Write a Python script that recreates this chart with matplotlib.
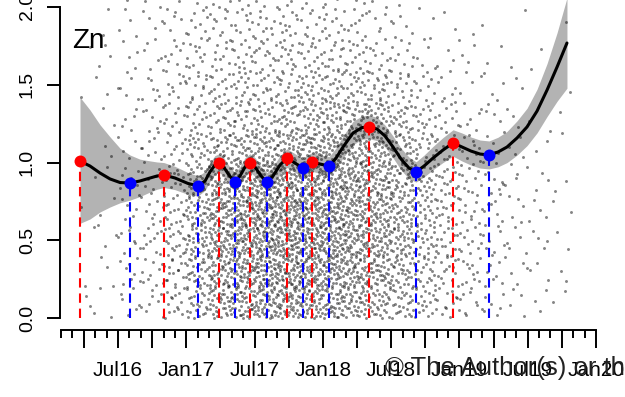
import numpy as np
import matplotlib
matplotlib.use("Agg")
import matplotlib.pyplot as plt

plt.rcParams['font.family'] = ['Liberation Sans', 'DejaVu Sans']

# x axis = months since Jan 2016 (Jul16 = 6, Jan20 = 48)
# fitted smooth curve
curve_x = [2.66, 3.54, 4.42, 5.30, 6.18, 7.05, 7.93, 8.81, 9.43, 10.04, 11.01, 12.15,
           13.03, 13.65, 14.08, 14.52, 14.88, 15.23, 15.75, 16.28, 16.72, 17.16, 17.60,
           18.04, 18.57, 19.09, 19.62, 20.24, 20.85, 21.55, 22.26, 22.70, 23.05, 23.75,
           24.54, 25.16, 25.77, 26.65, 27.44, 28.06, 28.76, 29.46, 30.17, 30.87, 31.57,
           32.19, 32.89, 33.68, 34.56, 35.44, 36.23, 37.02, 37.81, 38.60, 39.39, 40.18,
           41.06, 41.94, 42.82, 43.70, 44.58, 45.45]
curve_y = [1.010, 0.978, 0.933, 0.895, 0.872, 0.869, 0.882, 0.901, 0.914, 0.920, 0.901, 0.866,
           0.850, 0.882, 0.940, 0.985, 0.997, 0.978, 0.920, 0.875, 0.914, 0.972, 0.997,
           0.972, 0.914, 0.875, 0.914, 0.985, 1.029, 0.997, 0.965, 0.991, 1.004, 0.991,
           0.978, 1.029, 1.100, 1.190, 1.225, 1.229, 1.216, 1.171, 1.100, 1.023, 0.965,
           0.940, 0.978, 1.029, 1.081, 1.126, 1.100, 1.074, 1.055, 1.049, 1.068, 1.100,
           1.158, 1.229, 1.331, 1.466, 1.614, 1.768]
# confidence band, distance above / below the curve
ci_up = [0.41, 0.36, 0.31, 0.27, 0.22, 0.18, 0.14, 0.11, 0.09, 0.08, 0.075, 0.07,
         0.065, 0.06, 0.06, 0.06, 0.06, 0.06, 0.06, 0.06, 0.06, 0.06, 0.06,
         0.06, 0.06, 0.06, 0.06, 0.06, 0.06, 0.06, 0.06, 0.06, 0.06, 0.06,
         0.06, 0.065, 0.07, 0.075, 0.075, 0.075, 0.075, 0.07, 0.07, 0.07, 0.07,
         0.065, 0.07, 0.075, 0.08, 0.085, 0.09, 0.09, 0.09, 0.09, 0.095, 0.10,
         0.11, 0.12, 0.14, 0.17, 0.22, 0.29]
ci_lo = [0.40, 0.34, 0.25, 0.18, 0.13, 0.11, 0.10, 0.09, 0.085, 0.08, 0.075, 0.07,
         0.065, 0.06, 0.06, 0.06, 0.06, 0.06, 0.06, 0.06, 0.06, 0.06, 0.06,
         0.06, 0.06, 0.06, 0.06, 0.06, 0.06, 0.06, 0.06, 0.06, 0.06, 0.06,
         0.06, 0.065, 0.07, 0.075, 0.075, 0.075, 0.075, 0.07, 0.07, 0.07, 0.07,
         0.065, 0.07, 0.075, 0.08, 0.085, 0.09, 0.09, 0.09, 0.09, 0.095, 0.10,
         0.11, 0.12, 0.14, 0.17, 0.22, 0.29]

# local maxima (red) and minima (blue)
peak_x = [2.66, 10.04, 14.88, 17.60, 20.85, 23.05, 28.06, 35.44]
peak_y = [1.010, 0.920, 0.997, 0.997, 1.029, 1.004, 1.229, 1.126]
trough_x = [7.05, 13.03, 16.28, 19.09, 22.26, 24.54, 32.19, 38.60]
trough_y = [0.869, 0.850, 0.875, 0.875, 0.965, 0.978, 0.940, 1.049]

# raw observations, estimated as counts per (month bin, value bin)
month_edges = [2.6, 4, 6, 8, 10, 12, 14, 16, 18, 20, 22, 24, 26, 28, 30, 32, 34, 36, 38, 40, 42, 44, 46]
value_edges = [0.0, 0.2, 0.4, 0.6, 0.8, 1.0, 1.2, 1.4, 1.6, 1.8, 2.0, 2.2]
counts = [
    [3, 1, 1, 1, 0, 0, 0, 1, 1, 0, 0],
    [2, 3, 3, 2, 2, 2, 2, 3, 3, 2, 1],
    [6, 8, 8, 6, 6, 5, 5, 5, 4, 4, 3],
    [8, 10, 10, 9, 8, 8, 8, 7, 6, 5, 4],
    [14, 17, 18, 17, 14, 12, 11, 10, 9, 7, 5],
    [25, 30, 34, 34, 30, 22, 15, 13, 11, 9, 6],
    [38, 44, 48, 48, 44, 28, 18, 15, 13, 11, 7],
    [44, 50, 56, 56, 50, 34, 22, 17, 14, 11, 8],
    [48, 56, 62, 62, 56, 36, 22, 17, 14, 11, 8],
    [48, 56, 62, 62, 56, 38, 25, 19, 15, 12, 8],
    [47, 56, 60, 60, 56, 42, 28, 21, 15, 11, 8],
    [44, 52, 56, 56, 56, 44, 30, 21, 15, 11, 7],
    [38, 47, 50, 50, 52, 44, 32, 21, 13, 9, 5],
    [31, 40, 44, 44, 44, 38, 30, 19, 11, 7, 3],
    [25, 31, 35, 35, 34, 30, 22, 14, 9, 5, 2],
    [18, 22, 24, 24, 23, 19, 15, 9, 5, 3, 1],
    [12, 14, 16, 16, 16, 13, 10, 6, 4, 2, 1],
    [9, 11, 11, 11, 11, 9, 7, 4, 3, 1, 0],
    [6, 7, 8, 8, 8, 6, 5, 3, 2, 1, 0],
    [4, 5, 5, 5, 5, 4, 3, 2, 1, 1, 0],
    [3, 3, 4, 4, 3, 2, 2, 1, 1, 0, 0],
    [2, 2, 2, 2, 2, 1, 1, 1, 0, 1, 0],
]

tick_labels = ["Jul16", "Jan17", "Jul17", "Jan18", "Jul18", "Jan19", "Jul19", "Jan20"]
label_months = [6, 12, 18, 24, 30, 36, 42, 48]


def vdc(n, base):
    # van der Corput radical inverse, used to spread points inside a cell
    q, denom = 0.0, 1.0
    while n:
        n, r = divmod(n, base)
        denom *= base
        q += r / denom
    return q


pts_x, pts_y = [], []
for i, col in enumerate(counts):
    x0, x1 = month_edges[i], month_edges[i + 1]
    for j, n in enumerate(col):
        y0, y1 = value_edges[j], value_edges[j + 1]
        start = 37 + (i * 11 + j) * 53
        for k in range(n):
            pts_x.append(x0 + vdc(start + k, 2) * (x1 - x0))
            pts_y.append(y0 + vdc(start + k, 3) * (y1 - y0))

cx = np.array(curve_x)
cy = np.array(curve_y)

fig = plt.figure(figsize=(6.25, 3.97), dpi=100)
ax = fig.add_axes([60 / 625, 67 / 397, 555 / 625, 330 / 397])

ax.fill_between(cx, cy - np.array(ci_lo), cy + np.array(ci_up), color='#b3b3b3', lw=0, zorder=1)
ax.scatter(pts_x, pts_y, s=4.5, color='black', alpha=0.48, lw=0, zorder=2)
ax.plot(cx, cy, color='black', lw=2.2, zorder=3, solid_capstyle='round', solid_joinstyle='round')

ax.vlines(peak_x, 0, peak_y, colors='red', linestyles=(0, (4.5, 2.8)), lw=1.5, zorder=4)
ax.vlines(trough_x, 0, trough_y, colors='blue', linestyles=(0, (4.5, 2.8)), lw=1.5, zorder=4)
ax.plot(peak_x, peak_y, 'o', color='red', ms=8.6, mec='none', zorder=5)
ax.plot(trough_x, trough_y, 'o', color='blue', ms=8.6, mec='none', zorder=5)

ax.set_xlim(0.903, 49.67)
ax.set_ylim(-0.0751, 2.0443)

for s in ['top', 'right']:
    ax.spines[s].set_visible(False)
ax.spines['left'].set_bounds(0, 2)
ax.spines['bottom'].set_bounds(1, 48)
ax.spines['left'].set_linewidth(1.4)
ax.spines['bottom'].set_linewidth(1.4)

ax.set_yticks([0, 0.5, 1.0, 1.5, 2.0])
ax.set_yticklabels(["0.0", "0.5", "1.0", "1.5", "2.0"], rotation=90, va='center')
ax.tick_params(axis='y', length=9.4, width=1.4, labelsize=14, pad=8)

major = list(range(3, 49, 3))
ax.set_xticks(major)
ax.set_xticklabels([tick_labels[label_months.index(m)] if m in label_months else "" for m in major])
ax.set_xticks(list(range(1, 49)), minor=True)
ax.tick_params(axis='x', which='major', length=13, width=1.4, labelsize=15, pad=9)
ax.tick_params(axis='x', which='minor', length=5.8, width=1.4)

fig.text(72 / 625, 1 - 48 / 397, "Zn", fontsize=20, va='baseline')
fig.text(385 / 625, 1 - 375 / 397, "\u00a9 The Author(s) or their institution(s)", fontsize=18.5,
         va='baseline', color='#222222')

fig.savefig("out.png", dpi=100)
